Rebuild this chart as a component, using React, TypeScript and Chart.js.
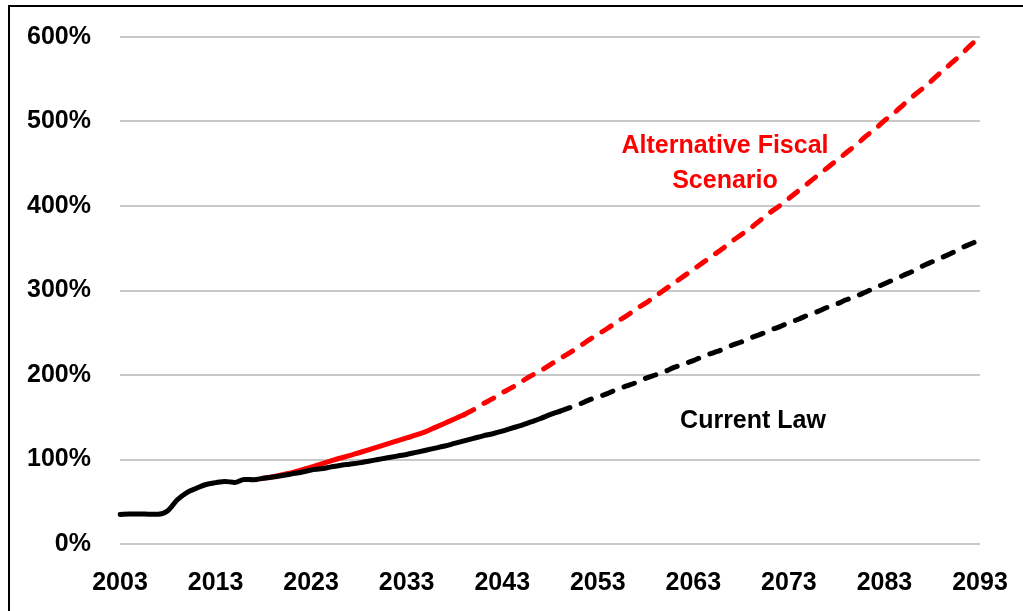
import React, { useEffect, useRef } from 'react';
import { Chart, registerables } from 'chart.js';

Chart.register(...registerables);

// Categories: annual, 2003..2093
const years: string[] = Array.from({ length: 91 }, (_, i) => String(2003 + i));

// Current law: history + 30-year projection (solid), 2003..2049
const currentLawSolid: number[] = [
  35.0, 35.5, 35.6, 35.3, 35.2, 39.3, 52.3, 60.9, 65.9, 70.4,
  72.6, 74.1, 72.9, 76.4, 76.0, 77.8, 79.2, 81.0, 83.0, 85.0,
  87.5, 89.0, 91.0, 93.0, 94.5, 96.0, 98.0, 100.0, 102.0, 104.0,
  106.0, 108.5, 111.0, 113.5, 116.0, 119.0, 122.0, 125.0, 128.0, 130.5,
  133.5, 137.0, 140.5, 144.5, 148.5, 153.0, 157.0,
];
// Current law extension (dashed), 2050..2093
const currentLawDashed: number[] = [
  161, 165, 170, 174, 178, 183, 187, 191, 196, 200,
  204, 209, 213, 217, 222, 226, 230, 235, 239, 244,
  248, 253, 257, 262, 266, 271, 275, 280, 284, 289,
  293, 298, 303, 308, 313, 318, 323, 329, 334, 339,
  344, 350, 355, 360,
];
// Alternative fiscal scenario (solid), 2018..2039
const altSolid: number[] = [
  77.8, 79.5, 82.0, 84.5, 87.8, 91.0, 94.5, 98.0, 101.5, 104.5,
  108.0, 111.5, 115.0, 118.5, 122.0, 125.5, 129.0, 133.0, 138.0, 143.0,
  148.0, 153.0,
];
// Alternative fiscal scenario extension (dashed), 2040..2093
const altDashed: number[] = [
  159, 166, 172, 179, 185, 192, 199, 205, 212, 219,
  226, 233, 241, 248, 255, 263, 270, 278, 285, 293,
  301, 309, 317, 325, 333, 341, 349, 358, 366, 374,
  383, 392, 400, 409, 418, 427, 436, 445, 454, 463,
  472, 482, 491, 501, 510, 520, 530, 539, 549, 559,
  569, 579, 590, 600,
];

const yTicks: number[] = [0, 100, 200, 300, 400, 500, 600];

const FONT = '"Liberation Sans", Arial, sans-serif';

function place(values: number[], startYear: number, prefix?: number): (number | null)[] {
  const start = startYear - 2003;
  return years.map((_, i) => {
    if (prefix !== undefined && i === start - 1) return prefix;
    const k = i - start;
    return k >= 0 && k < values.length ? values[k] : null;
  });
}

const annotations = {
  id: 'annotations',
  afterDatasetsDraw(chart: any) {
    const ctx = chart.ctx as CanvasRenderingContext2D;
    ctx.save();
    ctx.font = `bold 25px ${FONT}`;
    ctx.textAlign = 'center';
    ctx.textBaseline = 'alphabetic';
    ctx.fillStyle = '#FF0000';
    ctx.fillText('Alternative Fiscal', 725, 153);
    ctx.fillText('Scenario', 725, 188);
    ctx.fillStyle = '#000000';
    ctx.fillText('Current Law', 753, 428);
    ctx.restore();
  },
};

export default function App() {
  const ref = useRef<HTMLCanvasElement>(null);

  useEffect(() => {
    document.body.style.overflow = 'hidden';
    if (!ref.current) return;
    const lastCL = currentLawSolid[currentLawSolid.length - 1];
    const lastAlt = altSolid[altSolid.length - 1];
    const common = {
      pointRadius: 0,
      pointHoverRadius: 0,
      borderWidth: 5,
      fill: false,
      cubicInterpolationMode: 'monotone' as const,
      borderJoinStyle: 'round' as const,
      spanGaps: false,
    };
    const chart = new Chart(ref.current, {
      type: 'line',
      data: {
        labels: years,
        datasets: [
          {
            ...common,
            label: 'Current Law',
            data: place(currentLawSolid, 2003),
            borderColor: '#000000',
            borderCapStyle: 'round',
          },
          {
            ...common,
            label: 'Current Law (extended)',
            data: place(currentLawDashed, 2050, lastCL),
            borderColor: '#000000',
            borderDash: [11, 12],
            borderCapStyle: 'round',
          },
          {
            ...common,
            label: 'Alternative Fiscal Scenario',
            data: place(altSolid, 2018),
            borderColor: '#FF0000',
            borderCapStyle: 'round',
          },
          {
            ...common,
            label: 'Alternative Fiscal Scenario (extended)',
            data: place(altDashed, 2040, lastAlt),
            borderColor: '#FF0000',
            borderDash: [11, 12],
            borderCapStyle: 'round',
          },
        ],
      },
      options: {
        responsive: false,
        animation: false,
        devicePixelRatio: 1,
        layout: { autoPadding: false, padding: { left: 0, right: 43, top: 37, bottom: 0 } },
        plugins: {
          legend: { display: false },
          title: { display: false },
          tooltip: { enabled: false },
        },
        scales: {
          x: {
            type: 'category',
            offset: false,
            grid: { display: false, drawTicks: false },
            border: { display: false },
            ticks: {
              autoSkip: false,
              maxRotation: 0,
              minRotation: 0,
              padding: 24,
              color: '#000000',
              font: { family: FONT, size: 25, weight: 'bold' },
              callback: (_v: any, i: number) => (i % 10 === 0 ? years[i] : null),
            },
            afterFit: (s: any) => {
              s.height = 67;
              s.paddingLeft = 0;
              s.paddingRight = 0;
              s.paddingTop = 0;
              s.paddingBottom = 0;
            },
          },
          y: {
            min: yTicks[0],
            max: yTicks[yTicks.length - 1],
            grid: { color: '#c8c8c8', lineWidth: 2, drawTicks: false },
            border: { display: false },
            afterBuildTicks: (s: any) => {
              s.ticks = yTicks.map((v) => ({ value: v }));
            },
            ticks: {
              padding: 29,
              color: '#000000',
              font: { family: FONT, size: 25, weight: 'bold' },
              callback: (v: any) => `${v}%`,
            },
            afterFit: (s: any) => {
              s.width = 120;
              s.paddingLeft = 0;
              s.paddingRight = 0;
              s.paddingTop = 0;
              s.paddingBottom = 0;
            },
          },
        },
      },
      plugins: [annotations],
    });
    return () => chart.destroy();
  }, []);

  return (
    <div style={{ position: 'fixed', left: 0, top: 0, width: 1023, height: 611, background: '#ffffff' }}>
      <div
        style={{
          position: 'absolute',
          left: 8,
          top: 5,
          width: 1015,
          height: 606,
          borderLeft: '2px solid #000',
          borderTop: '2px solid #000',
          boxSizing: 'border-box',
        }}
      />
      <canvas ref={ref} width={1023} height={611} style={{ position: 'absolute', left: 0, top: 0 }} />
    </div>
  );
}
